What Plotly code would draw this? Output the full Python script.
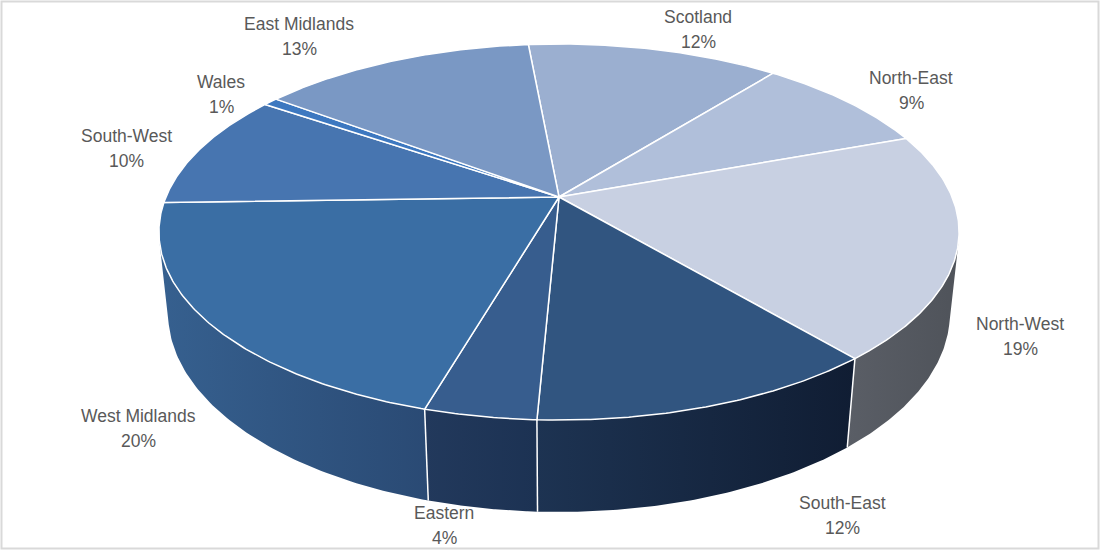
import numpy as np
import plotly.graph_objects as go

# ---------------- data ----------------
regions = ["Scotland", "North-East", "North-West", "South-East", "Eastern",
           "West Midlands", "South-West", "Wales", "East Midlands"]
shares = [12.2, 8.7, 19.4, 11.9, 3.8, 20.0, 10.0, 0.7, 13.3]

# ---------------- style ----------------
top_colors = ["#9bafd0", "#b0bfda", "#c8d0e2", "#315580", "#375d8e",
              "#3a6ea4", "#4775b0", "#3d78c0", "#7a98c4"]
wall_left = ["#7b8fb0", "#8f9fbe", "#5a5e66", "#1d3352", "#22395c",
             "#36608f", "#3a62a0", "#3568a8", "#6680a8"]
wall_right = ["#6a7fa0", "#7f90b0", "#4f535a", "#101d33", "#1c3253",
              "#2a4a74", "#30548a", "#2b5a92", "#55709a"]
text_color = "#595959"
label_pos = [(698, 17), (911, 78), (1020, 324), (842, 503), (444, 513),
             (138, 416), (126, 136), (221, 82), (299, 24)]
LINE_GAP = 24.5

# ---------------- 3D projection ----------------
START_DEG = -5.3
CX, CY = 559.0, 197.0
F, DIST = 1871.0, 4.76
ELEV = np.radians(27.5)
THICK = 0.235


def proj(theta_deg, r=1.0, z=0.0):
    t = np.radians(theta_deg)
    X = r * np.sin(t)
    Y = r * np.cos(t)
    depth = DIST + Y * np.cos(ELEV) - z * np.sin(ELEV)
    u = F * X / depth
    v = F * (Y * np.sin(ELEV) + z * np.cos(ELEV)) / depth
    return CX + u, CY - v


vis = np.degrees(np.arccos(-1.0 / (DIST * np.cos(ELEV))))
vis_lo, vis_hi = vis, 360.0 - vis

total = sum(shares)
bounds = [START_DEG]
for s in shares:
    bounds.append(bounds[-1] + 360.0 * s / total)

fig = go.Figure()

# side walls
for i, s in enumerate(shares):
    a, b = max(bounds[i], vis_lo), min(bounds[i + 1], vis_hi)
    if b <= a:
        continue
    th = np.linspace(a, b, 80)
    xt, yt = proj(th, 1.0, 0.0)
    xb, yb = proj(th[::-1], 1.0, -THICK)
    xs = np.concatenate([xt, xb, xt[:1]])
    ys = np.concatenate([yt, yb, yt[:1]])
    fig.add_trace(go.Scatter(
        x=xs, y=ys, mode="lines", fill="toself",
        line=dict(width=0, color=wall_left[i]),
        fillgradient=dict(type="horizontal",
                          colorscale=[[0, wall_left[i]], [1, wall_right[i]]]),
        hoverinfo="skip", showlegend=False))

# vertical separators on the walls
for ang in bounds[1:-1]:
    if vis_lo < ang < vis_hi:
        x0, y0 = proj(ang, 1.0, 0.0)
        x1, y1 = proj(ang, 1.0, -THICK)
        fig.add_trace(go.Scatter(x=[x0, x1], y=[y0, y1], mode="lines",
                                 line=dict(color="white", width=1.5),
                                 hoverinfo="skip", showlegend=False))

# top faces
for i, s in enumerate(shares):
    th = np.linspace(bounds[i], bounds[i + 1], max(8, int(s * 8)))
    xa, ya = proj(th, 1.0, 0.0)
    xs = np.concatenate([[CX], xa, [CX]])
    ys = np.concatenate([[CY], ya, [CY]])
    fig.add_trace(go.Scatter(
        x=xs, y=ys, mode="lines", fill="toself", fillcolor=top_colors[i],
        line=dict(color="white", width=1.5),
        hoverinfo="skip", showlegend=False))

# labels
for i, name in enumerate(regions):
    lx, ly = label_pos[i]
    pct = f"{round(shares[i] / total * 100):.0f}%"
    for txt, yy in ((name, ly), (pct, ly + LINE_GAP)):
        fig.add_annotation(x=lx, y=yy, text=txt, showarrow=False,
                           xanchor="center", yanchor="middle",
                           font=dict(family="Liberation Sans", size=17.5,
                                     color=text_color))

# chart border
fig.add_shape(type="rect", x0=1.5, y0=1.5, x1=1098.5, y1=548.5,
              line=dict(color="#d9d9d9", width=2), layer="below")

fig.update_xaxes(range=[0, 1101], visible=False, fixedrange=True)
fig.update_yaxes(range=[552, 0], visible=False, fixedrange=True)
fig.update_layout(width=1101, height=552, margin=dict(l=0, r=0, t=0, b=0),
                  plot_bgcolor="white", paper_bgcolor="white",
                  showlegend=False)

fig.write_html("out.html", config={"displayModeBar": False},
               post_script="document.body.style.margin='0px';")
